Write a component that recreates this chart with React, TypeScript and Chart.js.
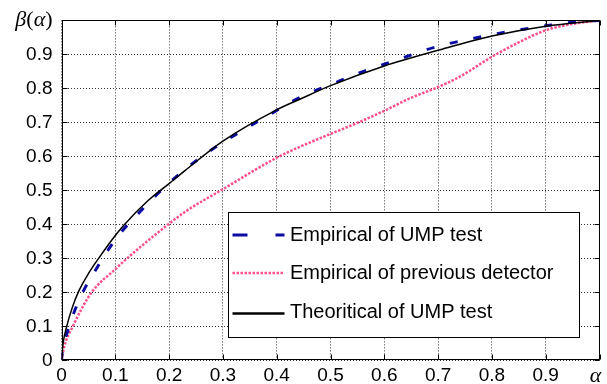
import React, { useEffect, useRef } from "react";
import { Chart, registerables } from "chart.js";

Chart.register(...registerables);

// ---- data ----
const alphaTheo = [0, 0.003, 0.0097, 0.02, 0.031, 0.05, 0.07, 0.1, 0.115, 0.161, 0.2, 0.23, 0.3, 0.4, 0.443, 0.5, 0.6, 0.7, 0.8, 0.9, 1.0];
const betaTheo = [0, 0.05, 0.1, 0.155, 0.2, 0.255, 0.302, 0.367, 0.396, 0.47, 0.52, 0.559, 0.645, 0.737, 0.768, 0.808, 0.866, 0.912, 0.954, 0.983, 1.0];

const alphaEmpUMP = [0, 0.0015, 0.011, 0.025, 0.042, 0.064, 0.086, 0.112, 0.143, 0.171, 0.203, 0.238, 0.273, 0.31, 0.349, 0.386, 0.426, 0.465, 0.507, 0.549, 0.592, 0.635, 0.677, 0.721, 0.765, 0.81, 0.855, 0.9, 0.945, 1.0];
const betaEmpUMP = [0, 0.026, 0.084, 0.148, 0.208, 0.267, 0.323, 0.379, 0.432, 0.478, 0.526, 0.572, 0.613, 0.651, 0.688, 0.722, 0.759, 0.789, 0.815, 0.843, 0.867, 0.89, 0.913, 0.932, 0.947, 0.961, 0.973, 0.984, 0.994, 1.0];

const alphaPrev = [0, 0.005, 0.021, 0.056, 0.1, 0.112, 0.1985, 0.2327, 0.2996, 0.4, 0.443, 0.5, 0.552, 0.6, 0.648, 0.7, 0.741, 0.8, 0.852, 0.9, 0.951, 1.0];
const betaPrev = [0, 0.04, 0.1, 0.2, 0.268, 0.286, 0.4, 0.44, 0.503, 0.596, 0.628, 0.666, 0.7, 0.734, 0.771, 0.804, 0.835, 0.893, 0.937, 0.971, 0.99, 1.0];

const seriesNames = ["Empirical of UMP test", "Empirical of previous detector", "Theoritical of UMP test"];
const xTickLabels = ["0", "0.1", "0.2", "0.3", "0.4", "0.5", "0.6", "0.7", "0.8", "0.9", ""];
const yTickLabels = ["0", "0.1", "0.2", "0.3", "0.4", "0.5", "0.6", "0.7", "0.8", "0.9", ""];
const xAxisTitle = "α";
const yAxisTitle = ["β", "(", "α", ")"];

const BLUE = "#0c0ca4";
const PINK = "#ff4f8f";
const BLACK = "#000000";

const toPoints = (xs: number[], ys: number[]) => xs.map((x, i) => ({ x, y: ys[i] }));

const decorPlugin = {
  id: "decor",
  afterDraw(chart: any) {
    const { ctx, chartArea: a, scales } = chart;
    const xs = scales.x;
    const ys = scales.y;
    ctx.save();
    // inside tick marks on all four sides
    ctx.strokeStyle = "#000";
    ctx.lineWidth = 1;
    ctx.setLineDash([]);
    const L = Math.round(a.left) + 0.5;
    const R = Math.round(a.right) - 0.5;
    const T = Math.round(a.top) + 0.5;
    const B = Math.round(a.bottom) - 0.5;
    for (let i = 0; i <= 10; i++) {
      const px = Math.round(xs.getPixelForValue(i / 10)) + 0.5;
      ctx.beginPath();
      ctx.moveTo(px, B);
      ctx.lineTo(px, B - 5);
      ctx.moveTo(px, T);
      ctx.lineTo(px, T + 5);
      ctx.stroke();
      const py = Math.round(ys.getPixelForValue(i / 10)) + 0.5;
      ctx.beginPath();
      ctx.moveTo(L, py);
      ctx.lineTo(L + 5, py);
      ctx.moveTo(R, py);
      ctx.lineTo(R - 5, py);
      ctx.stroke();
    }
    // box
    ctx.beginPath();
    ctx.rect(L, T, R - L, B - T);
    ctx.stroke();

    // legend
    const lw = 351;
    const lh = 125;
    const lx = Math.round(a.right - 20.5 - lw) + 0.5;
    const ly = Math.round(a.bottom - 23 - lh) + 0.5;
    ctx.fillStyle = "#fff";
    ctx.fillRect(lx, ly, lw, lh);
    ctx.strokeStyle = "#000";
    ctx.lineWidth = 1;
    ctx.strokeRect(lx, ly, lw, lh);

    const rowY = [ly + 21, ly + 59.5, ly + 98];
    const sx0 = lx + 4;
    const sx1 = lx + 56;
    // blue dashed sample
    ctx.strokeStyle = BLUE;
    ctx.lineWidth = 3;
    ctx.lineCap = "butt";
    ctx.setLineDash([15, 28]);
    ctx.beginPath();
    ctx.moveTo(sx0, rowY[0] + 1.5);
    ctx.lineTo(sx1, rowY[0] + 1.5);
    ctx.stroke();
    // pink dotted sample
    ctx.strokeStyle = PINK;
    ctx.lineWidth = 2.5;
    ctx.setLineDash([2.5, 1.5]);
    ctx.beginPath();
    ctx.moveTo(sx0, rowY[1] + 1);
    ctx.lineTo(sx1, rowY[1] + 1);
    ctx.stroke();
    // black solid sample
    ctx.strokeStyle = BLACK;
    ctx.lineWidth = 2.5;
    ctx.setLineDash([]);
    ctx.beginPath();
    ctx.moveTo(sx0, rowY[2] + 3);
    ctx.lineTo(sx1, rowY[2] + 3);
    ctx.stroke();

    ctx.fillStyle = "#000";
    ctx.font = '20px "Liberation Sans", Arial, sans-serif';
    ctx.textAlign = "left";
    ctx.textBaseline = "alphabetic";
    seriesNames.forEach((n, i) => {
      ctx.fillText(n, lx + 61.5, rowY[i] + 7);
    });

    // axis titles (MATLAB style, replacing the "1" tick labels)
    const italic = 'italic 22px "Liberation Serif", "DejaVu Serif", serif';
    const upright = '22px "Liberation Serif", "DejaVu Serif", serif';
    const fonts = [italic, upright, italic, upright];
    const widths = yAxisTitle.map((s, i) => {
      ctx.font = fonts[i];
      return ctx.measureText(s).width;
    });
    const total = widths.reduce((p, c) => p + c, 0);
    let cx = a.left - 9 - total;
    const baseY = a.top + 5.5;
    yAxisTitle.forEach((s, i) => {
      ctx.font = fonts[i];
      ctx.fillText(s, cx, baseY);
      cx += widths[i];
    });
    ctx.font = italic;
    ctx.textAlign = "center";
    ctx.fillText(xAxisTitle, xs.getPixelForValue(1) - 4, a.bottom + 21.5);
    ctx.restore();
  },
};

export default function App() {
  const canvasRef = useRef<HTMLCanvasElement | null>(null);

  useEffect(() => {
    const canvas = canvasRef.current;
    if (!canvas) return;
    const chart = new Chart(canvas, {
      type: "scatter",
      data: {
        datasets: [
          {
            label: seriesNames[2],
            data: toPoints(alphaTheo, betaTheo),
            showLine: true,
            borderColor: BLACK,
            borderWidth: 1.5,
            pointRadius: 0,
            cubicInterpolationMode: "monotone",
          },
          {
            label: seriesNames[0],
            data: toPoints(alphaEmpUMP, betaEmpUMP),
            showLine: true,
            borderColor: BLUE,
            borderWidth: 3,
            borderDash: [8, 16],
            borderCapStyle: "butt",
            pointRadius: 0,
            cubicInterpolationMode: "monotone",
          },
          {
            label: seriesNames[1],
            data: toPoints(alphaPrev, betaPrev),
            showLine: true,
            borderColor: PINK,
            borderWidth: 2.5,
            borderDash: [2.5, 1.5],
            borderCapStyle: "butt",
            pointRadius: 0,
            cubicInterpolationMode: "monotone",
          },
        ],
      },
      options: {
        responsive: false,
        animation: false,
        events: [],
        layout: { padding: { left: 0, right: 7.5, top: 18.3, bottom: 0 } },
        plugins: {
          legend: { display: false },
          tooltip: { enabled: false },
          title: { display: false },
        },
        scales: {
          x: {
            type: "linear",
            min: 0,
            max: 1,
            afterFit: (s: any) => {
              s.height = 23.7;
            },
            afterBuildTicks: (s: any) => {
              s.ticks = xTickLabels.map((_, i) => ({ value: i / 10 }));
            },
            ticks: {
              autoSkip: false,
              maxRotation: 0,
              padding: 4,
              color: "#000",
              font: { family: '"Liberation Sans", Arial, sans-serif', size: 19 },
              callback: (_v: any, i: number) => xTickLabels[i],
            },
            grid: { color: "#333", lineWidth: 1, drawTicks: false },
            border: { display: false, dash: [1, 2] },
          },
          y: {
            type: "linear",
            min: 0,
            max: 1,
            afterFit: (s: any) => {
              s.width = 61.5;
            },
            afterBuildTicks: (s: any) => {
              s.ticks = yTickLabels.map((_, i) => ({ value: i / 10 }));
            },
            ticks: {
              autoSkip: false,
              padding: 9,
              color: "#000",
              font: { family: '"Liberation Sans", Arial, sans-serif', size: 19 },
              callback: (_v: any, i: number) => yTickLabels[i],
            },
            grid: { color: "#333", lineWidth: 1, drawTicks: false },
            border: { display: false, dash: [1, 2] },
          },
        },
      },
      plugins: [decorPlugin],
    } as any);
    return () => chart.destroy();
  }, []);

  return (
    <div style={{ position: "absolute", left: 0, top: 0, width: 607, height: 384, background: "#fff" }}>
      <canvas ref={canvasRef} width={607} height={384} style={{ display: "block" }} />
    </div>
  );
}
